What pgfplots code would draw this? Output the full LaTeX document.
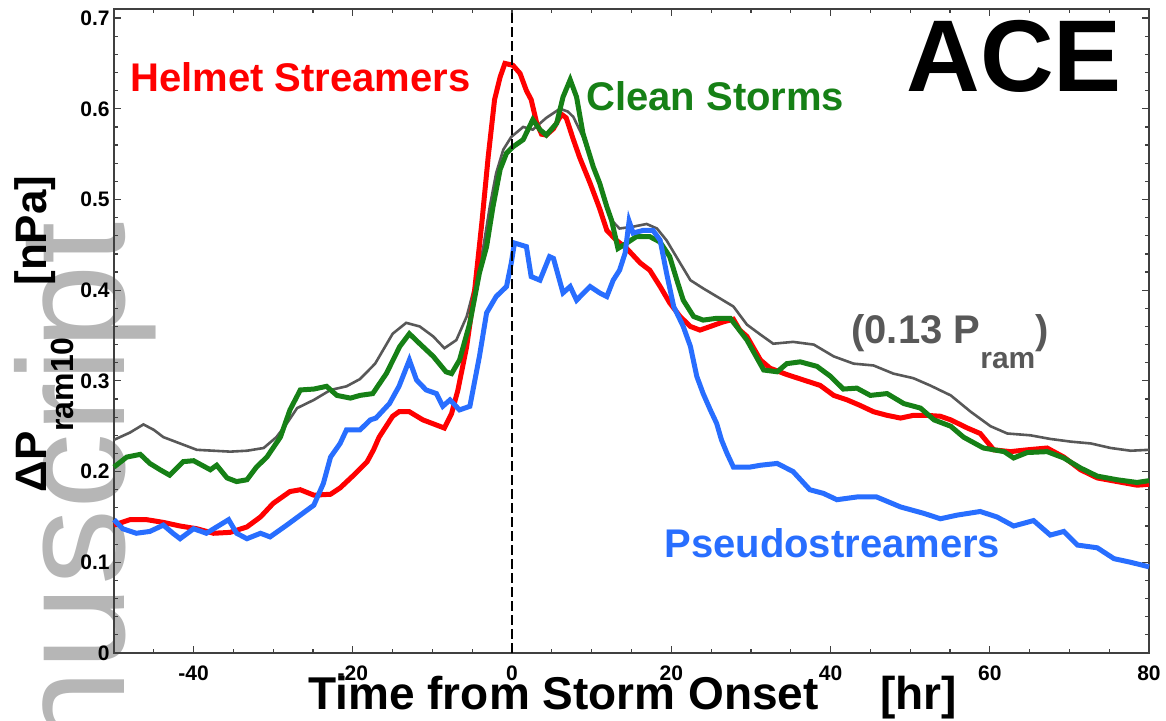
\documentclass[border=0pt]{standalone}
\usepackage{fontspec}
\setmainfont{Liberation Sans}
\usepackage{pgfplots}
\pgfplotsset{compat=1.18}
\definecolor{cred}{RGB}{255,0,0}
\definecolor{cgreen}{RGB}{22,128,22}
\definecolor{cblue}{RGB}{40,110,255}
\definecolor{cgray}{RGB}{88,88,88}
\definecolor{wmark}{RGB}{182,182,182}
\begin{document}
\begin{tikzpicture}
% background watermark
\begin{scope}
\clip (-57pt,-34pt) rectangle (526pt,326.5pt);
\node[rotate=90, anchor=base east, inner sep=0pt, text=wmark, font=\fontsize{76}{76}\selectfont] at (5.5pt,215.5pt) {nuscript};
\end{scope}
\begin{axis}[
  at={(0pt,0pt)}, anchor=south west,
  width=517.5pt, height=322pt, scale only axis,
  xmin=-50, xmax=80, ymin=0, ymax=0.71,
  xtick={-40,-20,0,20,40,60,80},
  xticklabels={-40,-20,0,20,40,60,80},
  minor xtick={-45,-35,-30,-25,-15,-10,-5,5,10,15,25,30,35,45,50,55,65,70,75},
  ytick={0,0.1,0.2,0.3,0.4,0.5,0.6,0.7},
  yticklabels={0,0.1,0.2,0.3,0.4,0.5,0.6,0.7},
  minor ytick={0.02,0.04,0.06,0.08,0.12,0.14,0.16,0.18,0.22,0.24,0.26,0.28,0.32,0.34,0.36,0.38,0.42,0.44,0.46,0.48,0.52,0.54,0.56,0.58,0.62,0.64,0.66,0.68},
  tick align=inside,
  major tick length=3.5pt, minor tick length=2.2pt,
  axis line style={black!75, line width=0.75pt},
  every tick/.style={black!75, line width=0.6pt},
  ticklabel style={font=\fontsize{10.5}{12}\bfseries\selectfont},
  xticklabel style={inner sep=0pt, yshift=-6pt},
  yticklabel style={inner sep=0pt, xshift=-2pt},
  clip=false,
]
% gray 0.13 Pram
\addplot[cgray, line width=1.3pt] coordinates {
(-50,0.235) (-48,0.243) (-46.3,0.252) (-45,0.246) (-43.8,0.238) (-41.7,0.231) (-39.6,0.224) (-37.5,0.223) (-35.4,0.222) (-33.3,0.223) (-31.2,0.226) (-29.6,0.238) (-28.3,0.253) (-27.0,0.270) (-24.9,0.279) (-22.8,0.290) (-20.8,0.294) (-19.1,0.302) (-17.2,0.319) (-15.0,0.352) (-13.3,0.364) (-11.6,0.360) (-9.9,0.349) (-8.5,0.336) (-7.0,0.345) (-5.7,0.371) (-4.5,0.411) (-3.6,0.448) (-2.8,0.492) (-2.0,0.529) (-1.1,0.555) (-0.1,0.569) (1.4,0.580) (2.6,0.577) (4.3,0.590) (6.0,0.600) (7.0,0.597) (7.7,0.591) (8.9,0.569) (10.2,0.536) (11.4,0.507) (12.5,0.477) (13.5,0.468) (15.2,0.470) (16.9,0.473) (18.2,0.468) (19.4,0.455) (21.1,0.430) (22.4,0.411) (24.0,0.402) (26.1,0.391) (27.8,0.382) (29.5,0.362) (31.2,0.351) (32.8,0.341) (35.3,0.343) (37.9,0.340) (40.4,0.327) (42.9,0.319) (45.4,0.317) (47.9,0.308) (50.4,0.303) (52.5,0.295) (55.1,0.284) (57.6,0.266) (60.1,0.250) (62.2,0.242) (65.1,0.240) (67.6,0.236) (70.2,0.233) (72.7,0.231) (75.2,0.226) (77.7,0.223) (80,0.224)
};
% red Helmet Streamers
\addplot[cred, line width=2.5pt] coordinates {
(-50,0.141) (-48.0,0.147) (-45.9,0.147) (-43.8,0.144) (-41.7,0.140) (-39.6,0.137) (-37.5,0.132) (-35.4,0.133) (-33.3,0.139) (-31.6,0.150) (-30.0,0.165) (-27.9,0.178) (-26.6,0.180) (-24.9,0.174) (-22.8,0.175) (-21.6,0.182) (-19.9,0.196) (-18.2,0.211) (-17.4,0.224) (-16.7,0.238) (-15.0,0.261) (-14.2,0.266) (-12.9,0.266) (-11.2,0.257) (-9.1,0.250) (-8.5,0.248) (-7.6,0.264) (-6.8,0.290) (-5.7,0.338) (-4.7,0.400) (-3.8,0.474) (-3.0,0.547) (-2.2,0.610) (-1.5,0.635) (-0.9,0.650) (0.1,0.648) (1.0,0.639) (1.8,0.620) (2.4,0.610) (3.1,0.584) (3.7,0.572) (4.3,0.571) (5.2,0.578) (6.2,0.594) (6.8,0.590) (7.7,0.566) (8.5,0.546) (9.8,0.518) (11.0,0.490) (11.9,0.466) (13.1,0.455) (14.4,0.446) (16.1,0.430) (17.3,0.422) (18.6,0.404) (19.8,0.386) (21.1,0.371) (22.4,0.360) (23.6,0.356) (24.9,0.360) (26.5,0.365) (27.8,0.368) (28.6,0.356) (29.5,0.349) (31.2,0.323) (32.4,0.314) (34.5,0.307) (36.6,0.301) (38.7,0.295) (40.4,0.284) (42.1,0.279) (43.7,0.273) (45.4,0.266) (47.1,0.262) (48.8,0.259) (50.4,0.262) (52.1,0.262) (53.8,0.261) (55.1,0.257) (57.2,0.248) (58.8,0.242) (60.5,0.224) (62.6,0.222) (64.7,0.224) (67.2,0.226) (69.3,0.216) (71.4,0.202) (73.5,0.193) (76.0,0.189) (78.5,0.185) (80,0.186)
};
% green Clean Storms
\addplot[cgreen, line width=2.5pt] coordinates {
(-50,0.205) (-48.4,0.216) (-46.7,0.219) (-45.5,0.209) (-44.2,0.202) (-43.0,0.196) (-41.3,0.211) (-40.0,0.212) (-37.9,0.202) (-37.1,0.207) (-35.8,0.193) (-34.6,0.189) (-33.3,0.191) (-32.1,0.205) (-30.8,0.216) (-29.1,0.238) (-27.9,0.268) (-26.6,0.290) (-24.9,0.291) (-23.3,0.294) (-22.0,0.284) (-20.3,0.281) (-19.1,0.284) (-17.5,0.286) (-15.8,0.308) (-14.1,0.338) (-12.9,0.352) (-11.6,0.341) (-9.9,0.327) (-8.3,0.310) (-7.6,0.308) (-6.6,0.323) (-5.3,0.364) (-4.1,0.419) (-3.2,0.448) (-2.4,0.492) (-1.5,0.533) (-0.7,0.551) (0.1,0.558) (1.4,0.566) (2.6,0.588) (3.5,0.577) (4.3,0.571) (5.2,0.580) (5.6,0.584) (6.4,0.613) (7.3,0.632) (8.1,0.613) (8.9,0.573) (10.2,0.536) (11.0,0.518) (11.9,0.492) (12.5,0.477) (13.3,0.446) (14.4,0.452) (15.6,0.459) (17.3,0.459) (18.6,0.453) (19.8,0.437) (20.7,0.411) (21.5,0.389) (22.8,0.371) (24.0,0.367) (25.7,0.369) (27.4,0.369) (28.2,0.360) (29.5,0.345) (31.6,0.312) (33.3,0.310) (34.5,0.319) (36.2,0.321) (38.3,0.316) (40.0,0.305) (41.6,0.291) (43.3,0.292) (45.0,0.284) (47.1,0.286) (49.2,0.275) (51.3,0.270) (53.0,0.257) (55.1,0.250) (56.7,0.238) (59.2,0.226) (61.8,0.222) (63.0,0.215) (64.7,0.221) (67.2,0.222) (69.3,0.215) (71.4,0.204) (73.5,0.195) (76.0,0.191) (78.5,0.188) (80,0.190)
};
% blue Pseudostreamers
\addplot[cblue, line width=2.5pt] coordinates {
(-50,0.147) (-48.9,0.137) (-47.2,0.132) (-45.5,0.134) (-43.8,0.141) (-42.6,0.132) (-41.7,0.126) (-40.0,0.137) (-38.4,0.132) (-37.1,0.139) (-35.6,0.147) (-34.6,0.132) (-33.3,0.126) (-31.6,0.132) (-30.4,0.128) (-28.3,0.141) (-26.6,0.152) (-24.9,0.163) (-23.7,0.187) (-22.8,0.216) (-21.6,0.231) (-20.8,0.246) (-19.1,0.246) (-17.8,0.257) (-17.1,0.259) (-15.4,0.275) (-14.2,0.294) (-12.9,0.323) (-12.0,0.301) (-10.8,0.290) (-9.5,0.286) (-8.7,0.272) (-7.8,0.279) (-6.6,0.268) (-5.3,0.272) (-4.1,0.327) (-3.2,0.375) (-2.0,0.393) (-0.7,0.404) (-0.1,0.430) (0.3,0.452) (1.8,0.448) (2.4,0.415) (3.5,0.411) (4.7,0.437) (5.2,0.435) (6.4,0.397) (7.3,0.404) (8.1,0.389) (9.8,0.404) (11.0,0.397) (11.9,0.393) (12.7,0.411) (13.5,0.422) (14.2,0.441) (14.7,0.476) (15.2,0.463) (16.5,0.466) (17.7,0.466) (18.6,0.455) (19.4,0.419) (20.3,0.382) (21.5,0.360) (22.4,0.338) (23.2,0.305) (24.0,0.286) (24.9,0.268) (25.7,0.253) (26.3,0.235) (27.0,0.220) (27.8,0.205) (29.9,0.205) (31.2,0.207) (33.3,0.209) (35.3,0.200) (37.4,0.180) (39.1,0.176) (40.8,0.169) (43.3,0.172) (45.8,0.172) (48.8,0.161) (51.7,0.154) (53.8,0.148) (55.9,0.152) (58.8,0.156) (60.9,0.150) (63.0,0.140) (65.5,0.146) (67.6,0.130) (69.3,0.134) (71.0,0.119) (73.5,0.116) (75.6,0.104) (77.7,0.100) (80,0.095)
};
% storm onset
\addplot[black, line width=1.1pt, dash pattern=on 5pt off 2pt] coordinates {(0,0) (0,0.71)};
\end{axis}
% in-plot labels
\node[anchor=base west, inner sep=0pt, text=cred, font=\fontsize{20}{24}\bfseries\selectfont] at (8pt,280.5pt) {Helmet Streamers};
\node[anchor=base west, inner sep=0pt, text=cgreen, font=\fontsize{20}{24}\bfseries\selectfont] at (236pt,271pt) {Clean Storms};
\node[anchor=base west, inner sep=0pt, text=black, font=\fontsize{51}{56}\bfseries\selectfont] at (396pt,280.6pt) {ACE};
\node[anchor=base west, inner sep=0pt, text=cgray, font=\fontsize{20}{24}\bfseries\selectfont] at (368.5pt,154.9pt) {(0.13 P\raisebox{-12.5pt}{\fontsize{15}{15}\selectfont ram})};
\node[anchor=base west, inner sep=0pt, text=cblue, font=\fontsize{20}{24}\bfseries\selectfont] at (275pt,47.9pt) {Pseudostreamers};
% axis labels
\node[rotate=90, anchor=base west, inner sep=0pt, font=\fontsize{22}{26}\bfseries\selectfont] at (-33.5pt,80pt) {ΔP\raisebox{-13pt}{\fontsize{16}{16}\selectfont ram10}};
\node[rotate=90, anchor=base west, inner sep=0pt, font=\fontsize{22}{26}\bfseries\selectfont] at (-33.5pt,183.5pt) {[nPa]};
\node[anchor=base west, inner sep=0pt, font=\fontsize{23}{27}\bfseries\selectfont] at (97pt,-28.5pt) {Time from Storm Onset};
\node[anchor=base west, inner sep=0pt, font=\fontsize{23}{27}\bfseries\selectfont] at (383pt,-28.5pt) {[hr]};
\pgfresetboundingbox
\path[use as bounding box] (-57pt,-34pt) rectangle (526pt,326.5pt);
\end{tikzpicture}
\end{document}
